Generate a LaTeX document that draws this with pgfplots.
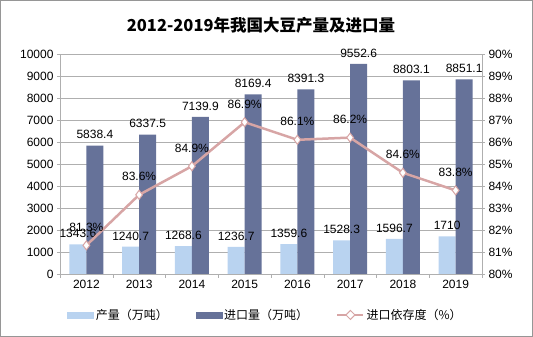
\documentclass[border=0pt]{standalone}
\usepackage{pgfplots}
\pgfplotsset{compat=1.18}
\usepackage{fontspec}
\setmainfont{Liberation Sans}
\newfontfamily\cjk{Noto Sans CJK SC}
\definecolor{lightbar}{RGB}{185,211,240}
\definecolor{darkbar}{RGB}{102,114,153}
\definecolor{linec}{RGB}{215,165,165}
\definecolor{gridc}{RGB}{175,175,175}
\definecolor{framec}{RGB}{150,150,150}
\begin{document}
\begin{tikzpicture}[x=1pt,y=1pt]
\draw[framec, line width=1pt] (0.5,0.5) rectangle (532.5,336.5);
\node[font=\cjk\bfseries\fontsize{16.5}{16.5}\selectfont] at (261,312) {2012-2019年我国大豆产量及进口量};
\begin{axis}[
  at={(60pt,63pt)}, anchor=south west, scale only axis,
  width=422pt, height=220pt,
  ybar=0pt, bar width=17pt,
  xmin=-0.5, xmax=7.5, ymin=0, ymax=10000,
  ytick={0,1000,...,10000},
  scaled y ticks=false,
  xtick={0,...,7},
  xticklabels={2012,2013,2014,2015,2016,2017,2018,2019},
  minor xtick={-0.5,0.5,...,7.5},
  major x tick style={draw=none},
  minor x tick style={gridc},
  tick align=outside,
  minor tick length=4pt, major tick length=3pt,
  ytick style={gridc},
  ymajorgrids, grid style={gridc, line width=0.8pt},
  axis y line*=left, axis x line*=bottom,
  axis line style={gridc, line width=0.8pt},
  tick label style={font=\fontsize{12}{12}\selectfont},
  y tick label style={/pgf/number format/fixed, /pgf/number format/1000 sep={}, /pgf/number format/assume math mode=true},
  nodes near coords={\pgfmathprintnumber[fixed,precision=1,1000 sep={},assume math mode=true]{\pgfplotspointmeta}},
  every node near coord/.append style={font=\fontsize{12}{12}\selectfont, text=black, yshift=3pt},
]
\addplot[fill=lightbar, draw=none] coordinates {(0,1343.6) (1,1240.7) (2,1268.6) (3,1236.7) (4,1359.6) (5,1528.3) (6,1596.7) (7,1710)};
\addplot[fill=darkbar, draw=none] coordinates {(0,5838.4) (1,6337.5) (2,7139.9) (3,8169.4) (4,8391.3) (5,9552.6) (6,8803.1) (7,8851.1)};
\end{axis}
\begin{axis}[
  at={(60pt,63pt)}, anchor=south west, scale only axis,
  width=422pt, height=220pt,
  xmin=-0.5, xmax=7.5, ymin=80, ymax=90,
  ytick={80,81,...,90},
  yticklabel={\pgfmathprintnumber{\tick}\%},
  axis y line*=right, axis x line=none,
  axis line style={gridc, line width=0.8pt},
  ytick style={gridc}, tick align=outside, major tick length=3pt,
  tick label style={font=\fontsize{12}{12}\selectfont},
  y tick label style={/pgf/number format/assume math mode=true},
  nodes near coords={\pgfmathprintnumber[fixed,precision=1,assume math mode=true]{\pgfplotspointmeta}\%},
  every node near coord/.append style={font=\fontsize{12}{12}\selectfont, text=black, yshift=10pt},
  legend columns=3,
  legend style={at={(0.017,-0.186)}, anchor=west, draw=none, fill=none,
    font=\cjk\fontsize{12}{12}\selectfont, inner sep=0pt,
    /tikz/every even column/.append style={column sep=26pt}},
  legend cell align=left,
]
\addlegendimage{legend image code/.code={\fill[lightbar] (0pt,-3pt) rectangle (26pt,3pt);}}
\addlegendentry{产量（万吨）}
\addlegendimage{legend image code/.code={\fill[darkbar] (0pt,-3pt) rectangle (26pt,3pt);}}
\addlegendentry{进口量（万吨）}
\addplot[linec, line width=2.5pt, mark=diamond*, mark size=4.5pt,
  mark options={fill=white, draw=linec, line width=1pt},
  legend image code/.code={\draw[linec, line width=2.5pt] (0pt,0pt) -- (26pt,0pt);
    \draw[linec, fill=white, line width=1pt] (13pt,4.5pt) -- (17.5pt,0pt) -- (13pt,-4.5pt) -- (8.5pt,0pt) -- cycle;}]
  coordinates {(0,81.3) (1,83.6) (2,84.9) (3,86.9) (4,86.1) (5,86.2) (6,84.6) (7,83.8)};
\addlegendentry{进口依存度（\%）}
\end{axis}
\end{tikzpicture}
\end{document}
